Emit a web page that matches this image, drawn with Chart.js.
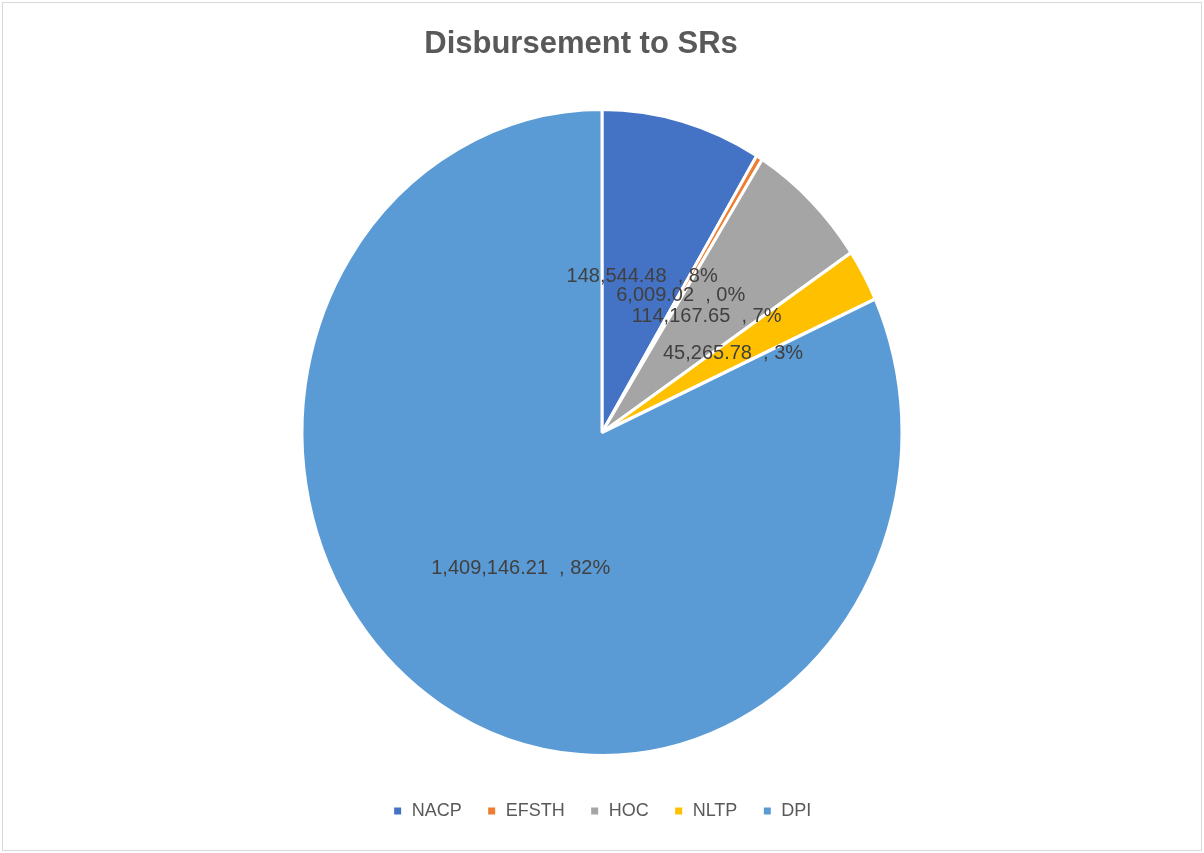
<!DOCTYPE html>
<html>
<head>
<meta charset="utf-8">
<script src="https://cdn.jsdelivr.net/npm/chart.js@4.4.1/dist/chart.umd.min.js"></script>
<style>
  html, body { margin: 0; padding: 0; background: #fff; }
  #wrap { width: 1204px; height: 853px; position: relative; }
</style>
</head>
<body>
<div id="wrap"><canvas id="pie"></canvas></div>
<script>
const chartTitle = 'Disbursement to SRs';
const categories = ['NACP', 'EFSTH', 'HOC', 'NLTP', 'DPI'];
const amounts    = [148544.48, 6009.02, 114167.65, 45265.78, 1409146.21];
const pctLabels  = ['8%', '0%', '7%', '3%', '82%'];
const colors     = ['#4472C4', '#ED7D31', '#A5A5A5', '#FFC000', '#5B9BD5'];

// pie is drawn slightly taller than wide
const Y_STRETCH = 323 / 300;

const fmt = (v) => v.toLocaleString('en-US', { minimumFractionDigits: 2, maximumFractionDigits: 2 });

const stretchPlugin = {
  id: 'stretch',
  beforeDatasetsDraw(chart) {
    const arc = chart.getDatasetMeta(0).data[0];
    if (!arc) return;
    const ctx = chart.ctx;
    ctx.save();
    ctx.translate(arc.x, arc.y);
    ctx.scale(1, Y_STRETCH);
    ctx.translate(-arc.x, -arc.y);
  },
  afterDatasetsDraw(chart) {
    chart.ctx.restore();
  },
};

const labelPlugin = {
  id: 'sliceLabels',
  afterDatasetsDraw(chart) {
    const ctx = chart.ctx;
    const arcs = chart.getDatasetMeta(0).data;
    ctx.save();
    ctx.font = '20px "Liberation Sans", Arial, sans-serif';
    ctx.fillStyle = '#404040';
    ctx.textAlign = 'center';
    ctx.textBaseline = 'middle';
    arcs.forEach((a, i) => {
      const mid = (a.startAngle + a.endAngle) / 2;
      const r = a.outerRadius * 0.5;
      const x = a.x + Math.cos(mid) * r;
      const y = a.y + Math.sin(mid) * r * Y_STRETCH;
      ctx.fillText(fmt(amounts[i]) + '  , ' + pctLabels[i], x, y);
    });
    ctx.restore();
  },
};

// heading and outer frame
const framePlugin = {
  id: 'frame',
  afterDraw(chart) {
    const ctx = chart.ctx;
    ctx.save();
    ctx.strokeStyle = '#d9d9d9';
    ctx.lineWidth = 1;
    ctx.strokeRect(2.5, 2.5, chart.width - 5, chart.height - 5);
    ctx.font = 'bold 31px "Liberation Sans", Arial, sans-serif';
    ctx.fillStyle = '#595959';
    ctx.textAlign = 'center';
    ctx.textBaseline = 'middle';
    ctx.fillText(chartTitle, 581, 44);
    ctx.restore();
  },
};

new Chart(document.getElementById('pie'), {
  type: 'pie',
  data: {
    labels: categories,
    datasets: [{
      data: amounts,
      backgroundColor: colors,
      borderColor: '#ffffff',
      borderWidth: 3,
      radius: 300,
    }],
  },
  options: {
    responsive: true,
    maintainAspectRatio: false,
    animation: false,
    layout: { padding: { top: 88, bottom: 23, left: 0, right: 0 } },
    plugins: {
      title: { display: false },
      legend: {
        position: 'bottom',
        labels: {
          color: '#595959',
          font: { family: '"Liberation Sans", Arial, sans-serif', size: 18 },
          boxWidth: 10,
          boxHeight: 10,
          padding: 25,
        },
      },
      tooltip: { enabled: false },
    },
  },
  plugins: [stretchPlugin, labelPlugin, framePlugin],
});
</script>
</body>
</html>
